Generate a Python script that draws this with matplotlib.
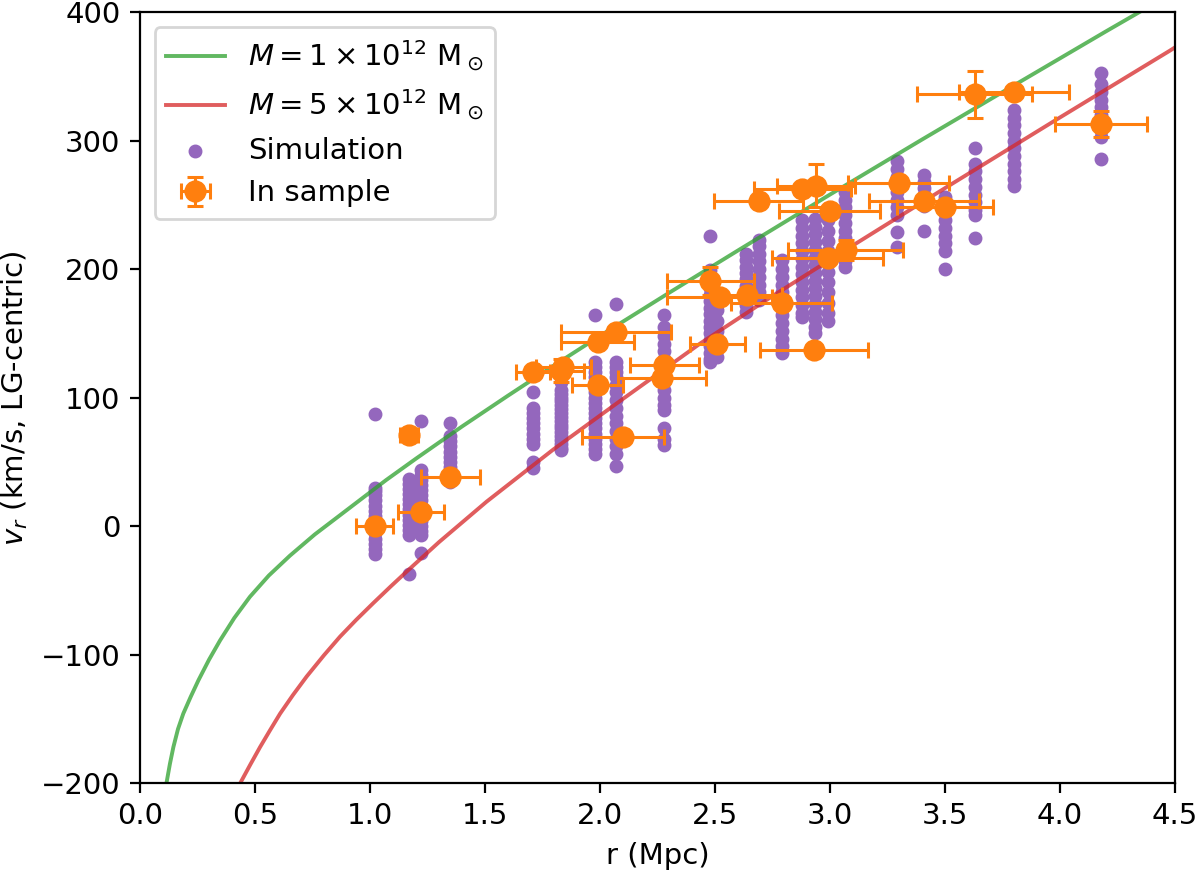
import matplotlib
matplotlib.use('Agg')
import matplotlib.pyplot as plt

# Model curves, values (r in Mpc, v in km/s)
curve1_r = [0.115, 0.13, 0.145, 0.165, 0.188, 0.22, 0.254, 0.3, 0.348, 0.41, 0.478, 0.56, 0.652,
            0.76, 0.87, 1.07, 1.2, 1.4, 1.6, 1.8, 2.0, 2.3, 2.6, 3.0, 3.4, 3.8, 4.2, 4.5]
curve1_v = [-200, -185, -172, -158, -146, -133, -120, -104, -89, -71.5, -55, -38.5, -23,
            -6.5, 8.5, 35.8, 52.5, 77.5, 101.5, 125, 148, 181.5, 214.5, 258, 300.8, 343, 385, 416]

curve5_r = [0.43, 0.442, 0.48, 0.522, 0.565, 0.609, 0.665, 0.725, 0.8, 0.87, 0.94, 1.014, 1.09,
            1.159, 1.3, 1.507, 1.8, 2.1, 2.435, 2.75, 3.087, 3.5, 4.0, 4.478, 4.5]
curve5_v = [-202, -198, -185.5, -172, -159, -146, -131.5, -117, -100.5, -86, -73, -60, -47,
            -35.5, -12.5, 19, 60, 99, 142, 179, 217, 263, 318, 370, 372.5]

# Simulation columns
sim_r = [1.02, 1.17, 1.22, 1.35, 1.71, 1.83, 1.98, 2.07, 2.28, 2.48, 2.51, 2.635, 2.69,
         2.79, 2.88, 2.935, 2.99, 3.065, 3.29, 3.41, 3.50, 3.63, 3.80, 4.18]
sim_v = [
    [87, 30, 27, 24, 20, 16, 12, 8, 5, 2, -2, -5, -10, -14, -18, -22],
    [37, 33, 29, 25, 21, 17, 13, 9, 5, 1, -3, -7, -37],
    [82, 44, 40, 36, 32, 28, 24, 20, 16, 12, 8, 4, 0, -4, -7, -21],
    [80, 70, 66, 62, 58, 54, 50, 46, 42, 38, 34],
    [104, 92, 88, 84, 80, 76, 72, 68, 64, 50, 45],
    [112, 106, 103, 100, 97, 94, 91, 88, 85, 82, 79, 76, 73, 70, 67, 64, 61, 59],
    [164, 128, 124, 120, 116, 112, 108, 104, 100, 96, 92, 88, 84, 80, 76, 72, 68, 64, 60, 56],
    [173, 128, 124, 120, 116, 110, 104, 98, 92, 86, 80, 74, 68, 62, 56, 47],
    [164, 155, 148, 142, 136, 130, 124, 118, 112, 106, 100, 94, 90, 76, 68, 63],
    [226, 199, 195, 190, 185, 180, 175, 170, 165, 160, 155, 150, 145, 140, 135, 130, 128],
    [175, 168, 160, 152, 145, 138, 132],
    [212, 207, 202, 197, 192, 187, 182, 177, 172, 167],
    [223, 218, 212, 206, 200, 194, 188, 182, 176],
    [207, 200, 194, 188, 182, 176, 170, 164, 158, 152, 146, 140, 135],
    [238, 232, 226, 220, 214, 208, 202, 196, 190, 184, 178, 172, 166, 163],
    [239, 233, 227, 221, 215, 209, 203, 197, 191, 185, 179, 173, 167, 161, 155, 150],
    [238, 230, 222, 214, 206, 198, 190, 182, 174, 166, 160],
    [260, 254, 248, 242, 236, 230, 224, 218, 212, 206, 202],
    [284, 278, 272, 266, 260, 254, 248, 242, 229, 217],
    [273, 268, 263, 258, 253, 249, 230],
    [256, 250, 244, 238, 232, 226, 220, 214, 200],
    [294, 282, 276, 270, 264, 258, 252, 246, 242, 224],
    [324, 318, 312, 306, 300, 294, 288, 282, 276, 270, 265],
    [353, 344, 338, 332, 326, 320, 314, 308, 303, 286],
]

# Galaxies in the sample
obs_r = [1.02, 1.17, 1.22, 1.35, 1.71, 1.83, 1.84, 1.99, 1.99, 2.07, 2.10, 2.28, 2.27,
         2.48, 2.52, 2.51, 2.64, 2.79, 2.93, 2.69, 2.88, 2.94, 3.00, 2.99, 3.07,
         3.30, 3.41, 3.50, 3.63, 3.80, 4.18]
obs_v = [0, 71, 11, 38, 120, 121, 124, 110, 143, 151, 69, 125, 115,
         191, 178, 142, 180, 174, 137, 253, 262, 265, 245, 209, 215,
         267, 253, 248, 336, 338, 313]
obs_rerr = [0.08, 0.04, 0.10, 0.13, 0.075, 0.10, 0.12, 0.11, 0.16, 0.24, 0.18, 0.15, 0.19,
            0.19, 0.23, 0.12, 0.15, 0.22, 0.235, 0.195, 0.21, 0.17, 0.22, 0.24, 0.25,
            0.22, 0.24, 0.21, 0.25, 0.24, 0.20]
obs_verr = [0, 0, 0, 0, 0, 9, 0, 0, 0, 0, 0, 0, 0,
            11, 0, 0, 0, 0, 0, 0, 0, 17, 0, 0, 8,
            0, 0, 0, 18, 0, 10]

plt.rcParams['font.size'] = 10.5

fig = plt.figure(figsize=(6.0, 4.355), dpi=200)
fig.subplots_adjust(left=0.1167, right=0.979, top=0.986, bottom=0.101)
ax = fig.add_subplot(111)

# flatten simulation columns
xs, ys = [], []
for r, vals in zip(sim_r, sim_v):
    xs += [r] * len(vals)
    ys += vals
sim = ax.scatter(xs, ys, s=16, color='tab:purple', zorder=1, label='Simulation')

l1, = ax.plot(curve1_r, curve1_v, color='tab:green', alpha=0.75, lw=1.4, zorder=2,
              label=r'$M = 1\times10^{12}\ \mathrm{M}_\odot$')
l5, = ax.plot(curve5_r, curve5_v, color='tab:red', alpha=0.75, lw=1.4, zorder=2,
              label=r'$M = 5\times10^{12}\ \mathrm{M}_\odot$')

eb = ax.errorbar(obs_r, obs_v, xerr=obs_rerr, yerr=obs_verr, fmt='o', color='tab:orange',
                 markersize=7, elinewidth=1.1, capsize=3, capthick=1.1, zorder=3,
                 label='In sample')

ax.set_xlim(0, 4.5)
ax.set_ylim(-200, 400)
ax.set_xlabel('r (Mpc)')
ax.set_ylabel(r'$v_r$ (km/s, LG-centric)')
ax.legend(handles=[l1, l5, sim, eb], loc='upper left', fontsize=10.5)

fig.savefig('out.png', dpi=200)
